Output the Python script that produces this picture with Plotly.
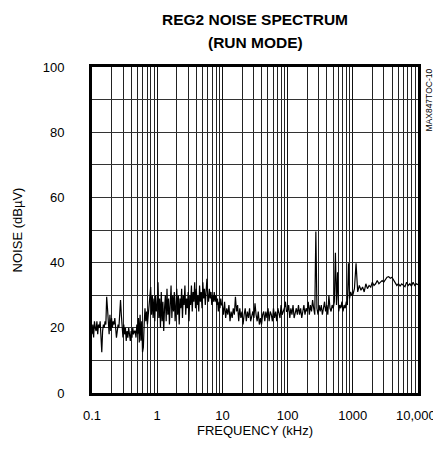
import numpy as np
import plotly.graph_objects as go

# Noise level (dBuV), one list per decade of frequency
noise_01_1k = [18, 21, 17, 22, 20, 19, 22, 18, 21, 20, 22, 14, 12.5, 19, 21, 20, 22, 21, 29.5, 26,
               22, 18, 24, 19, 23, 20, 22, 21, 23, 20, 17, 19, 21, 20, 25, 28.5, 24, 19, 17, 21,
               18, 20, 16, 19, 17, 20, 18, 16, 19, 17, 20, 18, 19, 19, 17, 21, 18, 23, 15.5, 24,
               16, 22, 12.5, 14, 21, 26, 22, 25, 21, 24, 26, 28, 32.5, 24, 30, 23, 29, 22, 30, 25]
noise_1_10k = [27, 34, 23, 29, 20, 31, 22, 28, 19, 26, 30, 22, 32, 24, 29, 21, 27, 33, 23, 30,
               25, 31, 22, 28, 32, 24, 30, 21, 29, 26, 32, 23, 30, 27, 33, 24, 29, 26, 31, 22,
               30, 27, 33, 25, 31, 28, 34, 26, 32, 27, 30, 25, 33, 28, 31, 26, 34, 29, 32, 27,
               33, 35, 30, 28, 32, 29, 31, 27, 30, 28, 31, 28, 30, 27, 29, 25, 28, 26, 29, 27]
noise_10_100k = [27, 24, 28, 23, 26, 24, 27, 22, 25, 23, 26, 24, 29.5, 25, 27, 22, 26, 23, 25, 21,
                 24, 26, 22, 25, 23, 26, 22, 24, 25, 23, 27.5, 24, 22, 25, 21, 23, 21, 24, 25, 22,
                 25, 23, 26, 22, 25, 24, 22, 26, 23, 25, 22, 26, 24, 23, 27, 24, 25, 26, 28, 25]
noise_100_1000k = [25, 27, 23, 26, 24, 27, 23, 25, 26, 24, 27, 24, 26, 23, 25, 27, 24, 26, 25, 28,
                   24, 27, 25, 28.5, 26, 24, 49.5, 26, 24, 27, 25, 27, 24, 26, 28, 25, 27, 24, 30, 26,
                   25, 27, 26, 28, 43, 27, 37, 25, 27, 26, 28, 25, 27, 26, 28, 27, 39.8, 29, 31, 30]
noise_1_10M = [30, 32, 39.8, 31, 33, 31.5, 32.5, 31, 33.5, 32, 33, 32.5, 34, 33, 33.5, 34.5, 33.5, 34, 34.5, 34,
               35, 35.5, 35.7, 35.2, 35.5, 34.5, 33.5, 33, 33.5, 32.8, 33.5, 33, 32.6, 34, 33, 33.5, 32.8, 34, 33, 33.5,
               33.2]

decade_starts = [0.1, 1, 10, 100, 1000]
decade_values = [noise_01_1k, noise_1_10k, noise_10_100k, noise_100_1000k, noise_1_10M]

x_tick_vals = [0.1, 1, 10, 100, 1000, 10000]
x_tick_text = ["0.1", "1", "10", "100", "1000", "10,000"]
y_tick_vals = [0, 20, 40, 60, 80, 100]
y_tick_text = ["0", "20", "40", "60", "80", "100"]

freq = []
noise = []
for start, vals in zip(decade_starts, decade_values):
    n = len(vals)
    if start == 1000:
        f = np.logspace(np.log10(start), np.log10(start * 10), n)
    else:
        f = np.logspace(np.log10(start), np.log10(start * 10), n, endpoint=False)
    freq.extend(f.tolist())
    noise.extend(vals)

FONT = "Liberation Sans, Arial, sans-serif"

fig = go.Figure()
fig.add_trace(go.Scatter(x=freq, y=noise, mode="lines",
                         line=dict(color="black", width=1.2), showlegend=False,
                         hoverinfo="skip"))

minor_x = [m * 10 ** e for e in range(-1, 4) for m in range(2, 10)]

# the last tick label sits at the right edge; it is drawn as an annotation so it is not dropped
shown_tick_text = x_tick_text[:-1] + [""]

# page body has an 8px margin, so the figure is drawn 8px smaller and margins compensated
fig.update_layout(
    width=433, height=445,
    margin=dict(l=84, r=23, t=59, b=60, autoexpand=False),
    paper_bgcolor="white", plot_bgcolor="white",
    font=dict(family=FONT, size=13, color="black"),
    xaxis=dict(type="log", range=[-1, 4], tickvals=x_tick_vals, ticktext=shown_tick_text,
               showgrid=True, gridcolor="#111", gridwidth=1.3, automargin=False,
               minor=dict(tickvals=minor_x, showgrid=True, gridcolor="#222", gridwidth=1, ticks=""),
               showline=True, linecolor="black", linewidth=3, mirror=True,
               ticks="", ticklabelstandoff=8, zeroline=False,
               title=dict(text="FREQUENCY (kHz)", font=dict(size=13), standoff=1)),
    yaxis=dict(range=[0, 100], tickvals=y_tick_vals, ticktext=y_tick_text,
               showgrid=True, gridcolor="#333", gridwidth=1, automargin=False,
               minor=dict(dtick=10, showgrid=True, gridcolor="#333", gridwidth=1, ticks=""),
               showline=True, linecolor="black", linewidth=3, mirror=True,
               ticks="", ticklabelstandoff=22, zeroline=False,
               title=dict(text="NOISE (dBµV)", font=dict(size=13), standoff=18)),
    annotations=[
        dict(text="<b>REG2 NOISE SPECTRUM</b>", x=0.5, y=1, xref="paper", yref="paper",
             yshift=67 - 19, showarrow=False, font=dict(size=15.5), yanchor="middle"),
        dict(text="<b>(RUN MODE)</b>", x=0.5, y=1, xref="paper", yref="paper",
             yshift=67 - 42, showarrow=False, font=dict(size=15.5), yanchor="middle"),
        dict(text="MAX847TOC-10", x=1.0, y=1.0, xref="paper", yref="paper",
             xanchor="left", yanchor="top", xshift=3, yshift=0, textangle=-90,
             showarrow=False, font=dict(size=8.5)),
        dict(text=x_tick_text[-1], x=1.0, y=0, xref="paper", yref="paper",
             xanchor="right", yanchor="middle", xshift=20, yshift=-22,
             showarrow=False, font=dict(size=13)),
    ],
)

fig.write_html("out.html")
